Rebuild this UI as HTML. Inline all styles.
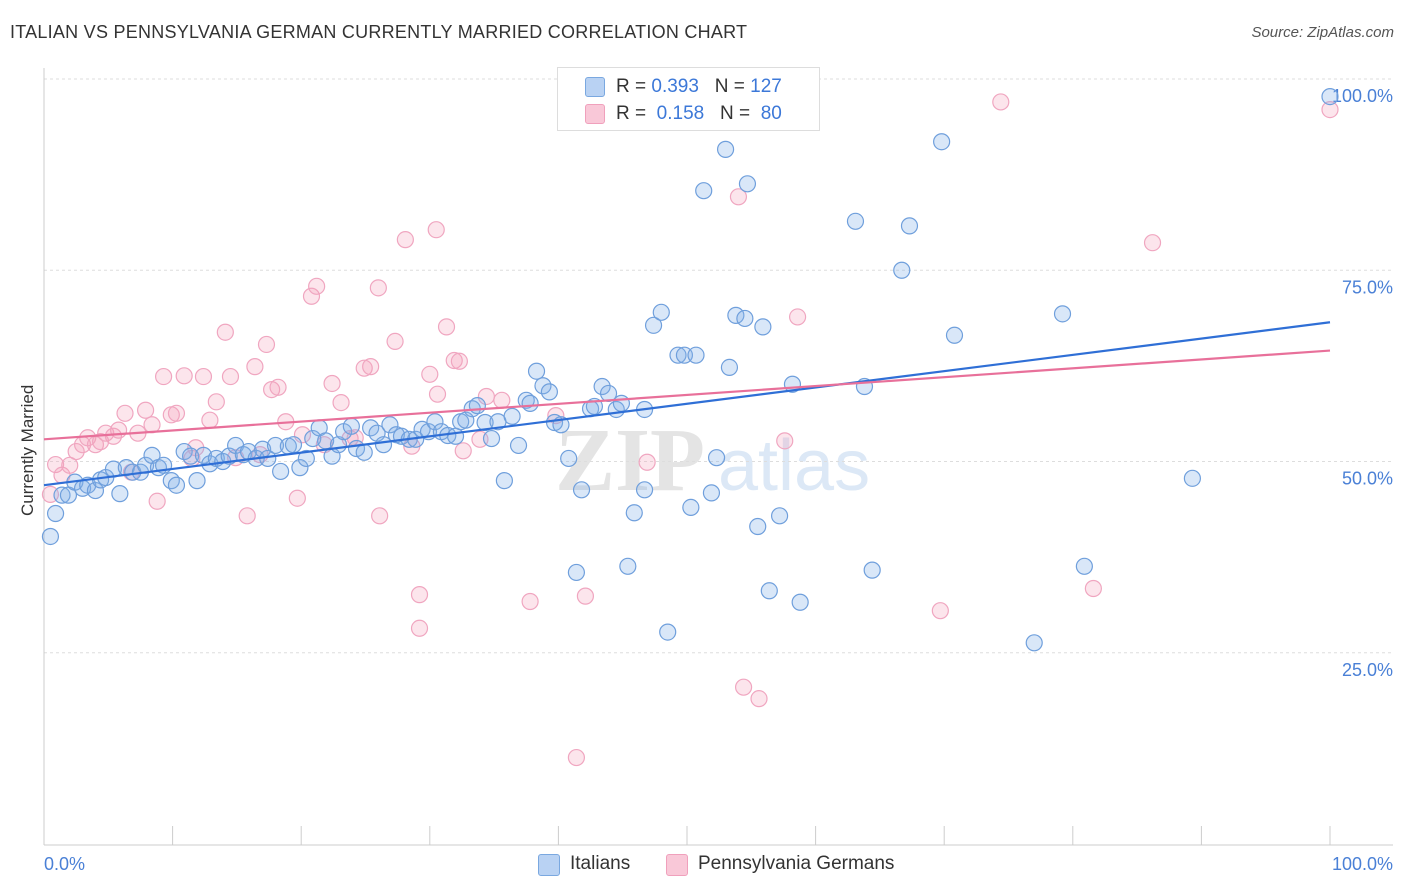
<!DOCTYPE html>
<html><head><meta charset="utf-8">
<style>
body{margin:0;background:#fff;font-family:"Liberation Sans",sans-serif;}
#wrap{position:relative;width:1406px;height:892px;overflow:hidden;}
.t{position:absolute;white-space:nowrap;}
</style></head>
<body>
<div id="wrap">
<div class="t" style="left:10px;top:22px;font-size:18px;color:#333;letter-spacing:0.25px">ITALIAN VS PENNSYLVANIA GERMAN CURRENTLY MARRIED CORRELATION CHART</div>
<div class="t" style="right:12px;top:24px;font-size:15px;color:#555;font-style:italic">Source: ZipAtlas.com</div>
<div class="t" style="left:-34px;top:444px;font-size:17px;color:#333;transform:rotate(-90deg);transform-origin:center;width:124px;text-align:center">Currently Married</div>
<svg id="svg" width="1406" height="892" style="position:absolute;left:0;top:0"></svg>
<div style="position:absolute;left:557px;top:67px;width:261px;height:62px;border:1px solid #ddd;background:#fff;font-size:19px;color:#333">
 <div style="position:absolute;left:27px;top:9px;width:18px;height:18px;background:#b9d2f3;border:1px solid #7aa8e0;border-radius:3px"></div>
 <div class="t" style="left:58px;top:8px">R = <span style="color:#3c78d8">0.393</span>&nbsp;&nbsp;&nbsp;N = <span style="color:#3c78d8">127</span></div>
 <div style="position:absolute;left:27px;top:36px;width:18px;height:18px;background:#f9c8d8;border:1px solid #f0a0bc;border-radius:3px"></div>
 <div class="t" style="left:58px;top:35px">R = &nbsp;<span style="color:#3c78d8">0.158</span>&nbsp;&nbsp;&nbsp;N = &nbsp;<span style="color:#3c78d8">80</span></div>
</div>
<div style="position:absolute;left:538px;top:853px;font-size:19px;color:#333">
 <div style="position:absolute;left:0;top:1px;width:20px;height:20px;background:#b9d2f3;border:1px solid #7aa8e0;border-radius:3px"></div>
 <div class="t" style="left:32px;top:0">Italians</div>
 <div style="position:absolute;left:128px;top:1px;width:20px;height:20px;background:#f9c8d8;border:1px solid #f0a0bc;border-radius:3px"></div>
 <div class="t" style="left:160px;top:0">Pennsylvania Germans</div>
</div>
</div>
<script>
const blueX=[0.5,0.9,1.4,1.9,2.4,3.0,3.4,4.0,4.4,4.8,5.4,5.9,6.4,6.9,7.5,7.9,8.4,8.9,9.3,9.9,10.3,10.9,11.4,11.9,12.4,12.9,13.4,13.9,14.4,14.9,15.5,15.9,16.5,17.0,17.4,18.0,18.4,19.0,19.4,19.9,20.4,20.9,21.4,21.9,22.4,22.9,23.3,23.9,24.3,24.9,25.4,25.9,26.4,26.9,27.4,27.8,28.4,28.9,29.4,29.9,30.4,30.9,31.4,32.0,32.4,32.8,33.3,33.7,34.3,34.8,35.3,35.8,36.4,36.9,37.5,37.8,38.3,38.8,39.3,39.7,40.2,40.8,41.4,41.8,42.5,42.8,43.4,43.9,44.5,44.9,45.4,45.9,46.7,46.7,47.4,48.0,48.5,49.3,49.8,50.3,50.7,51.3,51.9,52.3,53.0,53.3,53.8,54.5,54.7,55.5,55.9,56.4,57.2,58.2,58.8,63.1,63.8,64.4,66.7,67.3,69.8,70.8,77.0,79.2,80.9,89.3,100];
const blueY=[40.2,43.2,45.6,45.6,47.3,46.5,46.9,46.2,47.6,47.9,49.0,45.8,49.2,48.6,48.6,49.5,50.8,49.2,49.5,47.5,46.9,51.3,50.7,47.5,50.8,49.7,50.4,50.0,50.7,52.1,50.9,51.3,50.4,51.6,50.4,52.1,48.7,52.0,52.2,49.2,50.4,53.0,54.4,52.7,50.7,52.2,53.9,54.6,51.7,51.2,54.4,53.7,52.2,54.8,53.5,53.3,52.9,52.9,54.2,53.9,55.2,53.9,53.4,53.3,55.2,55.4,56.9,57.3,55.1,53.0,55.2,47.5,55.9,52.1,58.0,57.6,61.8,59.9,59.1,55.1,54.8,50.4,35.5,46.3,56.9,57.2,59.8,58.9,56.8,57.6,36.3,43.3,56.8,46.3,67.8,69.5,27.7,63.9,63.9,44.0,63.9,85.4,45.9,50.5,90.8,62.3,69.1,68.7,86.3,41.5,67.6,33.1,42.9,60.1,31.6,81.4,59.8,35.8,75.0,80.8,91.8,66.5,26.3,69.3,36.3,47.8,97.7];
const pinkX=[0.5,0.9,1.4,2.0,2.5,3.0,3.4,4.0,4.4,4.8,5.4,5.8,6.3,6.8,7.3,7.9,8.4,8.8,9.3,9.9,10.3,10.9,11.5,11.8,12.4,12.9,13.4,14.1,14.5,14.9,15.8,16.4,16.8,17.3,17.7,18.2,18.8,19.7,20.1,20.8,21.2,21.8,22.4,23.1,23.8,24.2,24.9,25.4,26.0,26.1,27.3,28.1,28.6,29.2,29.2,30.0,30.5,30.6,31.3,31.9,32.3,32.6,33.9,34.4,35.6,37.8,39.8,41.4,42.1,46.9,54.0,54.4,55.6,57.6,58.6,69.7,74.4,81.6,86.2,100];
const pinkY=[45.7,49.6,48.2,49.5,51.3,52.2,53.1,52.2,52.6,53.7,53.3,54.1,56.3,48.6,53.7,56.7,54.8,44.8,61.1,56.1,56.3,61.2,50.4,51.8,61.1,55.4,57.8,66.9,61.1,50.5,42.9,62.4,50.9,65.3,59.4,59.7,55.2,45.2,53.5,71.6,72.9,52.2,60.2,57.7,53.0,53.1,62.2,62.4,72.7,42.9,65.7,79.0,52.0,32.6,28.2,61.4,80.3,58.8,67.6,63.2,63.1,51.4,52.9,58.5,58.0,31.7,56.0,11.3,32.4,49.9,84.6,20.5,19.0,52.7,68.9,30.5,97.0,33.4,78.6,96.0];
const blueTrend=[46.9,68.2];
const pinkTrend=[52.9,64.5];
const yTicks=[25,50,75,100];
const yTickLabels=["25.0%","50.0%","75.0%","100.0%"];

const NS="http://www.w3.org/2000/svg";
const svg=document.getElementById('svg');
const X0=44,X1=1330,Y0=844,Y100=79;
const sx=v=>X0+(X1-X0)*v/100;
const sy=v=>Y0-(Y0-Y100)*v/100;
function mk(tag,attrs){const e=document.createElementNS(NS,tag);for(const k in attrs)e.setAttribute(k,attrs[k]);svg.appendChild(e);return e;}
let wm=mk('text',{x:555,y:490,'font-size':90,'font-family':'Liberation Serif, serif','fill':'#e4e4e4','font-weight':'bold'});wm.textContent='ZIP';


let wm2=mk('text',{x:718,y:490,'font-size':72,'font-family':'Liberation Sans, sans-serif','fill':'#dce8f6'});wm2.textContent='atlas';


yTicks.forEach((t,i)=>{
 const g=mk('line',{x1:X0,x2:1393,y1:sy(t),y2:sy(t),stroke:'#ddd','stroke-dasharray':'3,3'});
 
 
 const l=mk('text',{x:1393,y:sy(t)+23,'text-anchor':'end','font-size':18,fill:'#4a80d6','font-family':'Liberation Sans, sans-serif'});
 l.textContent=yTickLabels[i];
 
 
});
let ax=mk('line',{x1:X0,x2:1393,y1:Y0+1,y2:Y0+1,stroke:'#ccc'});


let ay=mk('line',{x1:X0,x2:X0,y1:68,y2:Y0+1,stroke:'#ccc'});


for(let i=0;i<=10;i++){
 const tk=mk('line',{x1:sx(i*10),x2:sx(i*10),y1:826,y2:Y0+1,stroke:'#ccc'});
 
 
}
let xl0=mk('text',{x:44,y:870,'font-size':18,fill:'#4a80d6','font-family':'Liberation Sans, sans-serif'});xl0.textContent='0.0%';


let xl1=mk('text',{x:1393,y:870,'text-anchor':'end','font-size':18,fill:'#4a80d6','font-family':'Liberation Sans, sans-serif'});xl1.textContent='100.0%';


pinkX.forEach((x,i)=>{
 const c=mk('circle',{cx:sx(x),cy:sy(pinkY[i]),r:8,fill:'rgba(244,160,188,0.28)',stroke:'#f0a6c0','stroke-width':1.2});
 
 
});
blueX.forEach((x,i)=>{
 const c=mk('circle',{cx:sx(x),cy:sy(blueY[i]),r:8,fill:'rgba(130,175,232,0.3)',stroke:'#6f9fdc','stroke-width':1.2});
 
 
});
let tb=mk('line',{x1:sx(0),y1:sy(blueTrend[0]),x2:sx(100),y2:sy(blueTrend[1]),stroke:'#2f6fd6','stroke-width':2.2});


let tp=mk('line',{x1:sx(0),y1:sy(pinkTrend[0]),x2:sx(100),y2:sy(pinkTrend[1]),stroke:'#e8709a','stroke-width':2.2});


</script>
</body></html>
